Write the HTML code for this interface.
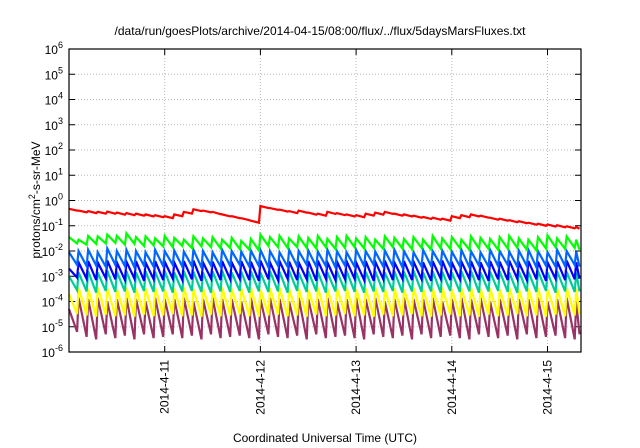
<!DOCTYPE html>
<html><head><meta charset="utf-8"><style>
body{margin:0;background:#fff}
svg{display:block;font-family:"Liberation Sans",sans-serif}
</style></head><body>
<svg id="c" width="640" height="448"></svg>
<script>
const dayLabels=["2014-4-11","2014-4-12","2014-4-13","2014-4-14","2014-4-15"];
const dayTicks=[1,2,3,4,5];
const decadeTicks=[-6,-5,-4,-3,-2,-1,0,1,2,3,4,5,6];
const toothTimes=[0.00,0.10,0.20,0.30,0.40,0.50,0.60,0.70,0.80,0.90,1.00,1.10,1.20,1.30,1.40,1.50,1.60,1.70,1.80,1.90,2.00,2.10,2.20,2.30,2.40,2.50,2.60,2.70,2.80,2.90,3.00,3.10,3.20,3.30,3.40,3.50,3.60,3.70,3.80,3.90,4.00,4.10,4.20,4.30,4.40,4.50,4.60,4.70,4.80,4.90,5.00,5.10,5.20,5.30];
const redPeak=[-0.33,-0.40,-0.42,-0.45,-0.44,-0.48,-0.50,-0.52,-0.55,-0.58,-0.62,-0.55,-0.45,-0.35,-0.40,-0.45,-0.55,-0.62,-0.70,-0.80,-0.22,-0.30,-0.36,-0.42,-0.40,-0.48,-0.52,-0.45,-0.50,-0.55,-0.58,-0.52,-0.48,-0.45,-0.52,-0.55,-0.60,-0.65,-0.68,-0.72,-0.62,-0.58,-0.55,-0.60,-0.68,-0.72,-0.78,-0.82,-0.88,-0.92,-0.95,-0.98,-1.02,-1.05];
const redLow=[-0.40,-0.47,-0.50,-0.52,-0.52,-0.56,-0.58,-0.60,-0.63,-0.66,-0.70,-0.62,-0.52,-0.42,-0.47,-0.54,-0.63,-0.70,-0.78,-0.88,-0.30,-0.37,-0.44,-0.50,-0.48,-0.56,-0.60,-0.53,-0.58,-0.63,-0.66,-0.60,-0.56,-0.53,-0.60,-0.63,-0.68,-0.73,-0.76,-0.80,-0.70,-0.66,-0.63,-0.68,-0.76,-0.80,-0.86,-0.90,-0.96,-1.00,-1.03,-1.06,-1.10,-1.12];
const greenPeak=[-1.45,-1.55,-1.40,-1.42,-1.35,-1.40,-1.30,-1.45,-1.42,-1.50,-1.40,-1.48,-1.55,-1.42,-1.50,-1.45,-1.55,-1.48,-1.60,-1.52,-1.35,-1.45,-1.40,-1.50,-1.42,-1.48,-1.40,-1.52,-1.45,-1.40,-1.50,-1.45,-1.55,-1.42,-1.48,-1.52,-1.45,-1.55,-1.40,-1.50,-1.45,-1.55,-1.42,-1.48,-1.52,-1.45,-1.40,-1.50,-1.55,-1.45,-1.38,-1.50,-1.42,-1.55];
const greenLow=[-1.70,-1.75,-1.72,-1.70,-1.68,-1.75,-1.72,-1.80,-1.78,-1.82,-1.85,-1.80,-1.88,-1.82,-1.85,-1.90,-1.88,-1.92,-1.95,-1.98,-1.80,-1.85,-1.88,-1.85,-1.88,-1.90,-1.85,-1.92,-1.88,-1.85,-1.90,-1.88,-1.92,-1.85,-1.90,-1.92,-1.88,-1.95,-1.90,-1.92,-1.88,-1.95,-1.90,-1.92,-1.95,-1.90,-1.88,-1.95,-1.98,-1.90,-1.85,-1.92,-1.88,-1.95];
const lblueP=[-2.05,-2.00,-1.95,-2.05,-1.90,-2.00,-1.95,-2.00,-2.05,-1.95,-2.00,-1.98,-2.02,-1.95,-2.00,-2.05,-1.95,-2.00,-2.02,-1.98,-1.95,-2.00,-2.05,-1.95,-2.00,-1.98,-2.02,-1.95,-2.00,-2.05,-1.95,-2.00,-2.02,-1.98,-1.95,-2.00,-2.05,-1.95,-2.00,-1.98,-2.02,-1.95,-2.00,-2.05,-1.95,-2.00,-2.02,-1.98,-1.95,-2.00,-2.05,-1.95,-2.00,-2.02];
const lblueT=[-2.55,-2.60,-2.58,-2.62,-2.55,-2.60,-2.65,-2.58,-2.62,-2.60,-2.55,-2.62,-2.60,-2.65,-2.58,-2.62,-2.60,-2.55,-2.62,-2.60,-2.65,-2.58,-2.62,-2.60,-2.55,-2.62,-2.60,-2.65,-2.58,-2.62,-2.60,-2.55,-2.62,-2.60,-2.65,-2.58,-2.62,-2.60,-2.55,-2.62,-2.60,-2.65,-2.58,-2.62,-2.60,-2.55,-2.62,-2.60,-2.65,-2.58,-2.62,-2.60,-2.55,-2.62];
const blueP=[-2.70,-2.45,-2.40,-2.45,-2.38,-2.45,-2.42,-2.40,-2.45,-2.40,-2.42,-2.45,-2.40,-2.38,-2.45,-2.42,-2.40,-2.45,-2.40,-2.42,-2.38,-2.45,-2.40,-2.42,-2.45,-2.40,-2.38,-2.45,-2.42,-2.40,-2.45,-2.40,-2.42,-2.38,-2.45,-2.40,-2.42,-2.45,-2.40,-2.38,-2.45,-2.42,-2.40,-2.45,-2.40,-2.42,-2.38,-2.45,-2.40,-2.42,-2.45,-2.40,-2.38,-2.45];
const blueT=[-3.05,-3.10,-3.15,-3.08,-3.12,-3.15,-3.10,-3.18,-3.12,-3.15,-3.10,-3.15,-3.12,-3.18,-3.10,-3.15,-3.12,-3.10,-3.15,-3.18,-3.12,-3.15,-3.10,-3.15,-3.12,-3.18,-3.10,-3.15,-3.12,-3.10,-3.15,-3.18,-3.12,-3.15,-3.10,-3.15,-3.12,-3.18,-3.10,-3.15,-3.12,-3.10,-3.15,-3.18,-3.12,-3.15,-3.10,-3.15,-3.12,-3.18,-3.10,-3.15,-3.12,-3.10];
const tealP=[-3.00,-2.85,-2.80,-2.85,-2.78,-2.82,-2.80,-2.85,-2.80,-2.82,-2.78,-2.85,-2.80,-2.82,-2.85,-2.80,-2.78,-2.85,-2.82,-2.80,-2.85,-2.80,-2.82,-2.78,-2.85,-2.80,-2.82,-2.85,-2.80,-2.78,-2.85,-2.82,-2.80,-2.85,-2.80,-2.82,-2.78,-2.85,-2.80,-2.82,-2.85,-2.80,-2.78,-2.85,-2.82,-2.80,-2.85,-2.80,-2.82,-2.78,-2.85,-2.80,-2.82,-2.85];
const tealT=[-3.55,-3.60,-3.65,-3.58,-3.62,-3.60,-3.65,-3.58,-3.62,-3.60,-3.65,-3.60,-3.58,-3.62,-3.65,-3.60,-3.62,-3.58,-3.65,-3.60,-3.62,-3.60,-3.65,-3.58,-3.62,-3.60,-3.65,-3.60,-3.58,-3.62,-3.65,-3.60,-3.62,-3.58,-3.65,-3.60,-3.62,-3.60,-3.65,-3.58,-3.62,-3.60,-3.65,-3.60,-3.58,-3.62,-3.65,-3.60,-3.62,-3.58,-3.65,-3.60,-3.62,-3.60];
const yelP=[-3.70,-3.45,-3.50,-3.45,-3.48,-3.52,-3.45,-3.50,-3.48,-3.45,-3.52,-3.48,-3.45,-3.50,-3.48,-3.52,-3.45,-3.50,-3.48,-3.45,-3.52,-3.48,-3.45,-3.50,-3.48,-3.52,-3.45,-3.50,-3.48,-3.45,-3.52,-3.48,-3.45,-3.50,-3.48,-3.52,-3.45,-3.50,-3.48,-3.45,-3.52,-3.48,-3.45,-3.50,-3.48,-3.52,-3.45,-3.50,-3.48,-3.45,-3.52,-3.48,-3.45,-3.50];
const yelT=[-4.50,-4.55,-4.60,-4.52,-4.58,-4.55,-4.60,-4.52,-4.58,-4.55,-4.50,-4.58,-4.55,-4.60,-4.52,-4.58,-4.55,-4.50,-4.58,-4.60,-4.55,-4.52,-4.58,-4.55,-4.60,-4.52,-4.58,-4.55,-4.50,-4.58,-4.55,-4.60,-4.52,-4.58,-4.55,-4.50,-4.58,-4.60,-4.55,-4.52,-4.58,-4.55,-4.60,-4.52,-4.58,-4.55,-4.50,-4.58,-4.55,-4.60,-4.52,-4.58,-4.55,-4.50];
const purP=[-4.30,-3.85,-3.90,-3.85,-4.00,-3.90,-3.85,-3.90,-4.00,-3.85,-3.90,-3.90,-3.85,-4.00,-3.90,-3.85,-3.90,-3.90,-4.00,-3.85,-3.90,-3.85,-3.90,-4.00,-3.85,-3.90,-3.90,-3.85,-4.00,-3.90,-3.85,-3.90,-3.85,-4.00,-3.90,-3.85,-3.90,-3.90,-3.85,-4.00,-3.90,-3.85,-3.90,-3.85,-4.00,-3.90,-3.85,-3.90,-3.90,-3.85,-4.00,-3.90,-3.85,-4.00];
const purT=[-5.20,-5.40,-5.50,-5.30,-5.45,-5.35,-5.50,-5.30,-5.45,-5.40,-5.30,-5.45,-5.35,-5.50,-5.30,-5.45,-5.40,-5.35,-5.45,-5.50,-5.30,-5.40,-5.45,-5.35,-5.50,-5.30,-5.45,-5.40,-5.35,-5.45,-5.50,-5.30,-5.40,-5.45,-5.35,-5.50,-5.30,-5.45,-5.40,-5.35,-5.45,-5.50,-5.30,-5.40,-5.45,-5.35,-5.50,-5.30,-5.45,-5.40,-5.35,-5.45,-5.50,-5.30];

const L=69,R=581,T=49,B=352,NS="http://www.w3.org/2000/svg";
const tMax=5.35;
const X=t=>L+(t/tMax)*(R-L);
const Y=v=>B-(v+6)/12*(B-T);
const svg=document.getElementById('c');
function el(tag,attrs,parent){const e=document.createElementNS(NS,tag);for(const k in attrs)e.setAttribute(k,attrs[k]);(parent||svg).appendChild(e);return e;}

let t=el('text',{x:320,y:35,'text-anchor':'middle','font-size':12});


t.textContent='/data/run/goesPlots/archive/2014-04-15/08:00/flux/../flux/5daysMarsFluxes.txt';

// grid
decadeTicks.forEach(d=>{
 if(d>-6&&d<6){const g=el('line',{x1:L,x2:R,y1:Y(d),y2:Y(d),stroke:'#bbb','stroke-dasharray':'1,2','stroke-width':1});
 }
 const a=el('line',{x1:L,x2:L+6,y1:Y(d),y2:Y(d),stroke:'#000'});
 const b=el('line',{x1:R-6,x2:R,y1:Y(d),y2:Y(d),stroke:'#000'});
 const lb=el('text',{x:L-6,y:Y(d)+5,'text-anchor':'end','font-size':12});
 
 lb.innerHTML='10<tspan dy="-6" font-size="9">'+d+'</tspan>';
});
dayTicks.forEach((d,i)=>{
 const x=X(d);
 const g=el('line',{x1:x,x2:x,y1:T,y2:B,stroke:'#bbb','stroke-dasharray':'1,2'});
 const a=el('line',{x1:x,x2:x,y1:B-6,y2:B,stroke:'#000'});
 const b=el('line',{x1:x,x2:x,y1:T,y2:T+6,stroke:'#000'});
 const lb=el('text',{x:0,y:0,'text-anchor':'end','font-size':12,transform:`translate(${x+4},360) rotate(-90)`});
 
 lb.textContent=dayLabels[i];
});

const series=[
 ['purple-series','#993366',purP,purT],
 ['yellow-series','#ffff00',yelP,yelT],
 ['teal-series','#00cc99',tealP,tealT],
 ['blue-series','#0000ff',blueP,blueT],
 ['lightblue-series','#0066ff',lblueP,lblueT],
 ['green-series','#00ff00',greenPeak,greenLow],
 ['red-series','#ff0000',redPeak,redLow]
];
series.forEach(([name,col,pk,lo])=>{
 let pts=[];
 for(let i=0;i<toothTimes.length;i++){
  const t0=toothTimes[i];
  const t1=i+1<toothTimes.length?toothTimes[i+1]:tMax;
  pts.push(X(t0)+','+Y(pk[i]));
  pts.push((X(t1)-1.5)+','+Y(lo[i]));
 }
 const p=el('polyline',{points:pts.join(' '),fill:'none',stroke:col,'stroke-width':2.2,'stroke-linejoin':'miter'});
 
 
});

const fr=el('rect',{x:L,y:T,width:R-L,height:B-T,fill:'none',stroke:'#000','stroke-width':1.2});


const yl=el('text',{x:0,y:0,'text-anchor':'middle','font-size':12,transform:'translate(40,200) rotate(-90)'});

yl.innerHTML='protons/cm<tspan dy="-5" font-size="9">2</tspan><tspan dy="5">-s-sr-MeV</tspan>';

const xl=el('text',{x:325,y:442,'text-anchor':'middle','font-size':12});

xl.textContent='Coordinated Universal Time (UTC)';
</script>
</body></html>
